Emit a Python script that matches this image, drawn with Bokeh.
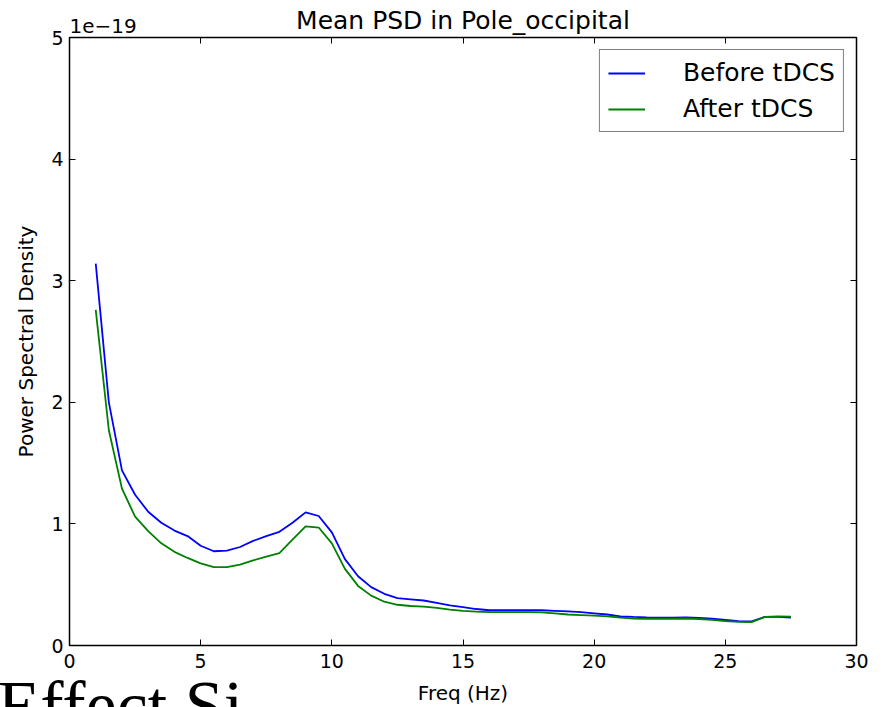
from bokeh.plotting import figure
from bokeh.models import (LinearAxis, FixedTicker, Legend, LegendItem, Title,
                          Range1d, CustomLabelingPolicy)
from bokeh.embed import file_html
from bokeh.resources import INLINE

# ---- data (PSD values in units of 1e-19) ----
freq = [1.0, 1.5, 2.0, 2.5, 3.0, 3.5, 4.0, 4.5, 5.0, 5.5, 6.0, 6.5, 7.0, 7.5,
        8.0, 8.5, 9.0, 9.5, 10.0, 10.5, 11.0, 11.5, 12.0, 12.5, 13.0, 13.5,
        14.0, 14.5, 15.0, 15.5, 16.0, 16.5, 17.0, 17.5, 18.0, 18.5, 19.0,
        19.5, 20.0, 20.5, 21.0, 21.5, 22.0, 22.5, 23.0, 23.5, 24.0, 24.5,
        25.0, 25.5, 26.0, 26.5, 27.0, 27.5]
before_tdcs = [3.14, 2.00, 1.44, 1.24, 1.10, 1.01, 0.945, 0.90, 0.82, 0.775,
               0.78, 0.81, 0.86, 0.90, 0.935, 1.01, 1.095, 1.065, 0.93, 0.71,
               0.57, 0.48, 0.425, 0.39, 0.38, 0.37, 0.35, 0.33, 0.315, 0.30,
               0.29, 0.29, 0.29, 0.29, 0.29, 0.285, 0.28, 0.275, 0.265, 0.255,
               0.24, 0.235, 0.232, 0.23, 0.23, 0.232, 0.228, 0.22, 0.21, 0.20,
               0.198, 0.235, 0.235, 0.23]
after_tdcs = [2.76, 1.77, 1.29, 1.06, 0.94, 0.84, 0.77, 0.72, 0.675, 0.645,
              0.645, 0.665, 0.70, 0.73, 0.76, 0.87, 0.98, 0.97, 0.84, 0.63,
              0.49, 0.41, 0.36, 0.335, 0.325, 0.32, 0.31, 0.295, 0.285, 0.278,
              0.275, 0.275, 0.275, 0.275, 0.272, 0.265, 0.255, 0.25, 0.245,
              0.24, 0.23, 0.222, 0.22, 0.22, 0.22, 0.222, 0.218, 0.21, 0.20,
              0.195, 0.192, 0.235, 0.24, 0.238]
x_ticks = [0, 5, 10, 15, 20, 25, 30]
y_ticks = [0, 1, 2, 3, 4, 5]
series_names = ["Before tDCS", "After tDCS"]
series_colors = ["#0000ff", "#008000"]
title_text = "Mean PSD in Pole_occipital"
x_label = "Freq (Hz)"
y_label = "Power Spectral Density"
offset_text = "1e\u221219"
footer_text = "Effect Si"
FONT = "DejaVu Sans"

p = figure(width=883, height=707, output_backend="svg", toolbar_location=None,
           x_range=Range1d(0, 30), y_range=Range1d(0, 5), title_location=None,
           min_border_left=69, min_border_right=27, min_border_top=37,
           min_border_bottom=62)
p.background_fill_color = "white"
p.border_fill_color = "white"
p.outline_line_color = "black"
p.outline_line_width = 1.5
p.xgrid.visible = False
p.ygrid.visible = False

# extra axes (ticks only) on top and right
hide_labels = CustomLabelingPolicy(code="""
for (const i of indices) { indices.unset(i) }
return indices
""")
p.add_layout(LinearAxis(major_label_policy=hide_labels), "above")
p.add_layout(LinearAxis(major_label_policy=hide_labels), "right")

for ax in p.xaxis:
    ax.ticker = FixedTicker(ticks=x_ticks)
for ax in p.yaxis:
    ax.ticker = FixedTicker(ticks=y_ticks)

for ax in p.axis:
    ax.axis_line_color = None
    ax.major_tick_in = 6
    ax.major_tick_out = 0
    ax.minor_tick_in = 0
    ax.minor_tick_out = 0
    ax.major_tick_line_color = "black"
    ax.major_tick_line_width = 1
    ax.major_label_text_font = FONT
    ax.major_label_text_font_size = "19px"
    ax.major_label_text_color = "black"
    ax.axis_label_text_font = FONT
    ax.axis_label_text_font_size = "20px"
    ax.axis_label_text_font_style = "normal"
    ax.axis_label_text_color = "black"

for ax in (p.above[0], p.right[0]):
    ax.major_label_standoff = 0
    ax.major_label_text_font_size = "1px"

xb = p.below[0]
xb.major_label_standoff = 8
xb.axis_label = x_label
xb.axis_label_standoff = 10

yl = p.left[0]
yl.major_label_standoff = 6
yl.axis_label = y_label
yl.axis_label_standoff = 10

# texts above the frame: offset text (closest) and title (outer)
t_offset = Title(text=offset_text, align="left", vertical_align="top",
                 offset=0, standoff=-2, text_font=FONT, text_font_size="20px",
                 text_font_style="normal", text_color="black")
t_main = Title(text=title_text, align="center", vertical_align="bottom",
               standoff=-31, text_font=FONT, text_font_size="25px",
               text_font_style="normal", text_color="black")
p.add_layout(t_offset, "above")
p.add_layout(t_main, "above")

# fragment of a text that is cut off at the bottom of the reference image
t_footer = Title(text=footer_text, align="left", vertical_align="top",
                 offset=-72, standoff=-82, text_font="Liberation Serif",
                 text_font_size="70px", text_font_style="normal",
                 text_color="black")
p.add_layout(t_footer, "below")

# lines
r1 = p.line(freq, before_tdcs, line_color=series_colors[0], line_width=1.8)
r2 = p.line(freq, after_tdcs, line_color=series_colors[1], line_width=1.8)

legend = Legend(items=[LegendItem(label=series_names[0], renderers=[r1]),
                       LegendItem(label=series_names[1], renderers=[r2])],
                location="top_right")
legend.margin = 12
legend.padding = 8
legend.spacing = 7
legend.glyph_width = 37
legend.glyph_height = 24
legend.label_height = 24
legend.label_standoff = 38
legend.label_text_font = FONT
legend.label_text_font_size = "25px"
legend.label_text_color = "black"
legend.border_line_color = "black"
legend.border_line_width = 1.5
legend.background_fill_color = "white"
legend.background_fill_alpha = 1.0
p.add_layout(legend, "center")

open("out.html", "w").write(file_html(p, INLINE))
